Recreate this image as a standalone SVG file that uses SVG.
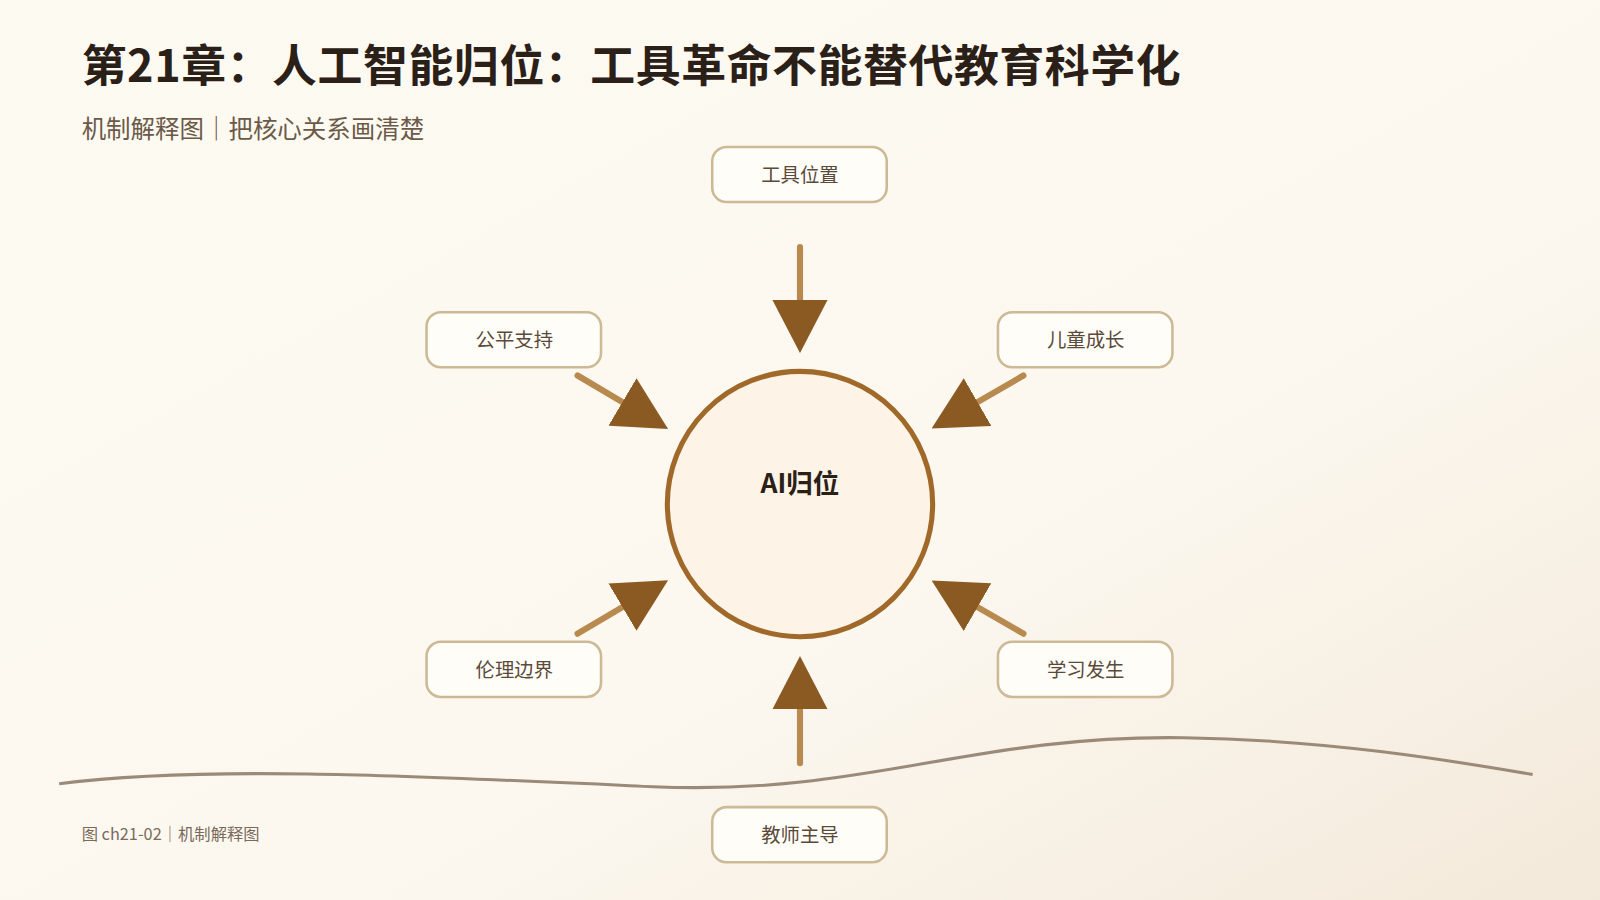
<svg xmlns="http://www.w3.org/2000/svg" width="1600" height="900" viewBox="0 0 1600 900">
<style>
.node rect{fill:#fffdf8;stroke:#cdb995;stroke-width:2.5}
.node text{font-family:"Noto Sans CJK SC",sans-serif;font-size:19px;fill:#5a4a3a;text-anchor:middle}
.conn line{stroke:#b88a50;stroke-width:6;stroke-linecap:round}
</style>
<defs>
<linearGradient id="bg" x1="0" y1="0" x2="1" y2="1">
<stop offset="0" stop-color="#fdfaf2"/><stop offset="0.6" stop-color="#fcf8f0"/><stop offset="1" stop-color="#f3e9da"/>
</linearGradient>
<marker id="ah" viewBox="0 0 52 54" refX="0" refY="27" markerWidth="52" markerHeight="54" markerUnits="userSpaceOnUse" orient="auto">
<path d="M0,0 L52,27 L0,54 Z" fill="#8b5a22"/>
</marker>
</defs>
<rect width="1600" height="900" fill="url(#bg)"/>
<g transform="scale(1.0204)">
<text x="80" y="80" font-family="Noto Sans CJK SC, serif" font-weight="bold" font-size="44" fill="#2a2018" textLength="1077" lengthAdjust="spacing">第21章：人工智能归位：工具革命不能替代教育科学化</text>
<text x="80" y="135" font-family="Noto Sans CJK SC, sans-serif" font-size="24" fill="#6b5a48">机制解释图｜把核心关系画清楚</text>
<path d="M58,768 C200,750 400,760 640,771 C850,780 950,720 1160,723 C1300,725 1420,745 1502,759" fill="none" stroke="#9c8a78" stroke-width="3"/>
<g class="conn" id="connectors">
<line x1="784" y1="242" x2="784" y2="294" marker-end="url(#ah)"/>
<line x1="566" y1="368" x2="610" y2="394" marker-end="url(#ah)"/>
<line x1="1003" y1="368" x2="958" y2="394" marker-end="url(#ah)"/>
<line x1="566" y1="621" x2="610" y2="595" marker-end="url(#ah)"/>
<line x1="1003" y1="621" x2="958" y2="595" marker-end="url(#ah)"/>
<line x1="784" y1="748" x2="784" y2="695" marker-end="url(#ah)"/>
</g>
<g id="center">
<circle cx="784" cy="494" r="130" fill="#fdf3e6" stroke="#a0692a" stroke-width="5"/>
<text x="784" y="483" font-family="Noto Sans CJK SC, sans-serif" font-weight="bold" font-size="26" fill="#2a2018" text-anchor="middle">AI归位</text>
</g>
<g class="node" id="n1"><rect x="698" y="144" width="171" height="54" rx="14"/><text x="784" y="178">工具位置</text></g>
<g class="node" id="n2"><rect x="418" y="306" width="171" height="54" rx="14"/><text x="504" y="340">公平支持</text></g>
<g class="node" id="n3"><rect x="978" y="306" width="171" height="54" rx="14"/><text x="1064" y="340">儿童成长</text></g>
<g class="node" id="n4"><rect x="418" y="629" width="171" height="54" rx="14"/><text x="504" y="663">伦理边界</text></g>
<g class="node" id="n5"><rect x="978" y="629" width="171" height="54" rx="14"/><text x="1064" y="663">学习发生</text></g>
<g class="node" id="n6"><rect x="698" y="791" width="171" height="54" rx="14"/><text x="784" y="825">教师主导</text></g>
<text x="80" y="823" font-family="Noto Sans CJK SC, sans-serif" font-size="16" fill="#7a6a5a">图 ch21-02｜机制解释图</text>
</g>
</svg>
